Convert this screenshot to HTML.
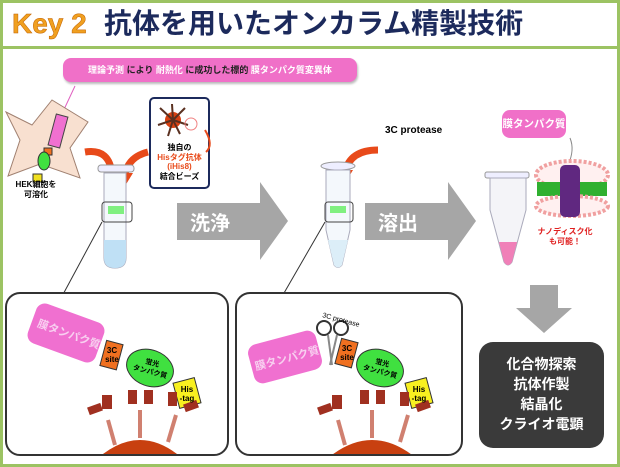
<!DOCTYPE html>
<html><head><meta charset="utf-8"><style>
*{margin:0;padding:0;box-sizing:border-box}
body{width:620px;height:467px;background:#fff;position:relative;overflow:hidden;font-family:"Liberation Sans","Noto Sans CJK JP",sans-serif}
.a{position:absolute}
.b{font-weight:bold}
</style></head><body>
<div class="a" style="left:0;top:0;width:620px;height:49px;border:3px solid #9cc363;background:#fff"></div>
<div class="a" style="left:0;top:47px;width:620px;height:420px;border:3px solid #9cc363;border-top:2px solid #9cc363"></div>
<div class="a b" style="left:12px;top:7px;font-size:28px;color:#f0a020;line-height:34px;-webkit-text-stroke:0.5px #c06000">Key 2</div>
<div class="a b" style="left:104px;top:7px;font-size:28px;color:#1c2a5c;line-height:34px;white-space:nowrap">抗体を用いたオンカラム精製技術</div>

<svg class="a" style="left:0;top:0" width="620" height="467">
 <defs>
  <clipPath id="c1"><rect x="6" y="293" width="222" height="161" rx="14"/></clipPath>
  <clipPath id="c2"><rect x="236" y="293" width="226" height="161" rx="14"/></clipPath>
 </defs>
 <line x1="75" y1="86" x2="60" y2="118" stroke="#e060c0" stroke-width="1"/>
 <!-- HEK cell -->
 <polygon points="6,112 32,125 52,100 88,122 70,148 80,178 40,164 8,176 20,140" fill="#f8e0d0" stroke="#a08070"/>
 <rect x="52" y="115" width="12" height="32" fill="#f070d0" stroke="#444" transform="rotate(15 58 131)"/>
 <rect x="44" y="148" width="8" height="7" fill="#f07020" stroke="#333"/>
 <ellipse cx="44" cy="161" rx="6" ry="9" fill="#40e040" stroke="#333"/>
 <rect x="33" y="174" width="9" height="8" fill="#f0e020" stroke="#333"/>
 <!-- red arrows -->
 <path d="M85,152 Q110,148 112,175" stroke="#e84a1a" stroke-width="7" fill="none"/>
 <polygon points="104,173 120,173 112,186" fill="#e84a1a"/>
 <path d="M148,152 Q128,157 125,175" stroke="#e84a1a" stroke-width="7" fill="none"/>
 <polygon points="117,173 133,173 125,186" fill="#e84a1a"/>
 <path d="M378,150 Q350,150 345,172" stroke="#e84a1a" stroke-width="7" fill="none"/>
 <polygon points="337,170 353,170 345,183" fill="#e84a1a"/>
 <!-- bead box -->
 <rect x="150" y="98" width="59" height="90" rx="4" fill="#fff" stroke="#1c2a5c" stroke-width="2"/>
 <circle cx="173" cy="120" r="8" fill="#d84010"/>
 <g stroke="#5a3020" stroke-width="2">
  <line x1="173" y1="120" x2="160" y2="108"/><line x1="173" y1="120" x2="185" y2="108"/><line x1="173" y1="120" x2="158" y2="125"/><line x1="173" y1="120" x2="188" y2="125"/><line x1="173" y1="120" x2="168" y2="136"/><line x1="173" y1="120" x2="180" y2="134"/><line x1="173" y1="120" x2="172" y2="104"/>
 </g>
 <circle cx="191" cy="124" r="6" fill="none" stroke="#f08080"/>
 <path d="M205,130 Q214,145 206,152" stroke="#e84a1a" stroke-width="2" fill="none"/>
 <!-- tube1 -->
 <rect x="98" y="165" width="36" height="7" rx="3" fill="#eef" stroke="#999"/>
 <path d="M104,173 L104,258 Q104,268 115,268 Q126,268 126,258 L126,173 Z" fill="#f4f8fc" stroke="#aab"/>
 <path d="M104,240 L126,240 L126,258 Q126,268 115,268 Q104,268 104,258 Z" fill="#bfe0f5"/>
 <rect x="108" y="206" width="16" height="8" fill="#80f080"/>
 <rect x="102" y="202" width="30" height="20" rx="3" fill="none" stroke="#444"/>
 <line x1="102" y1="222" x2="60" y2="300" stroke="#333"/>
 <!-- arrow1 -->
 <polygon points="177,203 260,203 260,182 288,221 260,260 260,240 177,240" fill="#a6a6a6"/>
 <!-- tube2 -->
 <ellipse cx="338" cy="166" rx="17" ry="4" fill="#eef" stroke="#999"/>
 <path d="M326,170 L350,170 L350,230 L342,265 Q338,270 334,265 L326,230 Z" fill="#f4f8fc" stroke="#aab"/>
 <path d="M328,240 L348,240 L342,265 Q338,270 334,265 Z" fill="#dceef8"/>
 <rect x="330" y="206" width="16" height="7" fill="#80f080"/>
 <rect x="325" y="202" width="28" height="20" rx="3" fill="none" stroke="#444"/>
 <line x1="325" y1="222" x2="280" y2="300" stroke="#333"/>
 <!-- arrow2 -->
 <polygon points="365,203 448,203 448,182 476,221 448,260 448,240 365,240" fill="#a6a6a6"/>
 <!-- tube3 -->
 <rect x="485" y="172" width="44" height="6" rx="2" fill="#eef" stroke="#999"/>
 <path d="M490,178 L526,178 L526,210 L512,262 Q508,268 504,262 L490,210 Z" fill="#f4f4f8" stroke="#aab"/>
 <path d="M499,242 L517,242 L512,262 Q508,268 504,262 Z" fill="#f080b8"/>
 <!-- nanodisc -->
 <path d="M570,138 Q575,150 568,165" stroke="#888" fill="none"/>
 <ellipse cx="572" cy="175" rx="36" ry="14" fill="#fff0f0" stroke="#f0a0a0" stroke-width="4" stroke-dasharray="3 2"/>
 <rect x="537" y="182" width="70" height="14" fill="#30b030"/>
 <ellipse cx="572" cy="206" rx="36" ry="10" fill="#fff0f0" stroke="#f0a0a0" stroke-width="4" stroke-dasharray="3 2"/>
 <rect x="560" y="165" width="20" height="52" rx="5" fill="#602880"/>
 <!-- down arrow -->
 <polygon points="530,285 558,285 558,308 572,308 544,333 516,308 530,308" fill="#a6a6a6"/>
 <!-- bottom boxes -->
 <rect x="6" y="293" width="222" height="162" rx="14" fill="#fff" stroke="#333" stroke-width="2"/>
 <rect x="236" y="293" width="226" height="162" rx="14" fill="#fff" stroke="#333" stroke-width="2"/>
 <g clip-path="url(#c1)">
  <rect x="30" y="312" width="72" height="42" rx="9" fill="#f070d0" transform="rotate(20 66 333)"/>
  <rect x="103" y="342" width="17" height="26" fill="#f07020" stroke="#333" transform="rotate(15 111 355)"/>
  <ellipse cx="150" cy="368" rx="24" ry="18" fill="#40e040" stroke="#333" transform="rotate(20 150 368)"/>
  <rect x="176" y="380" width="22" height="26" fill="#f8f020" stroke="#333" transform="rotate(-15 187 393)"/>
  <path d="M98,458 Q140,422 182,458 Z" fill="#c84010"/>
  <g stroke="#d08070" stroke-width="4"><line x1="115" y1="445" x2="108" y2="420"/><line x1="140" y1="438" x2="140" y2="410"/><line x1="168" y1="442" x2="176" y2="415"/></g>
  <g fill="#a03020"><rect x="88" y="405" width="14" height="8" transform="rotate(-20 95 409)"/><rect x="102" y="395" width="10" height="14"/><rect x="128" y="390" width="9" height="14"/><rect x="144" y="390" width="9" height="14"/><rect x="168" y="392" width="9" height="14"/><rect x="184" y="402" width="14" height="8" transform="rotate(-20 191 406)"/></g>
 </g>
 <g clip-path="url(#c2)">
  <rect x="250" y="337" width="70" height="40" rx="9" fill="#f070d0" transform="rotate(-15 285 357)"/>
  <rect x="338" y="340" width="17" height="26" fill="#f07020" stroke="#333" transform="rotate(15 346 353)"/>
  <ellipse cx="380" cy="368" rx="24" ry="18" fill="#40e040" stroke="#333" transform="rotate(20 380 368)"/>
  <rect x="408" y="380" width="22" height="26" fill="#f8f020" stroke="#333" transform="rotate(-15 419 393)"/>
  <path d="M328,458 Q372,422 416,458 Z" fill="#c84010"/>
  <g stroke="#d08070" stroke-width="4"><line x1="345" y1="445" x2="338" y2="420"/><line x1="372" y1="438" x2="372" y2="410"/><line x1="400" y1="442" x2="408" y2="415"/></g>
  <g fill="#a03020"><rect x="318" y="405" width="14" height="8" transform="rotate(-20 325 409)"/><rect x="332" y="395" width="10" height="14"/><rect x="360" y="390" width="9" height="14"/><rect x="376" y="390" width="9" height="14"/><rect x="400" y="392" width="9" height="14"/><rect x="416" y="402" width="14" height="8" transform="rotate(-20 423 406)"/></g>
  <circle cx="324" cy="328" r="7" fill="none" stroke="#333" stroke-width="2"/>
  <circle cx="341" cy="328" r="7" fill="none" stroke="#333" stroke-width="2"/>
  <line x1="328" y1="335" x2="332" y2="365" stroke="#888" stroke-width="2"/>
  <line x1="337" y1="335" x2="330" y2="365" stroke="#888" stroke-width="2"/>
  <text x="322" y="317" font-size="7" font-family="Liberation Sans" transform="rotate(15 322 317)">3C protease</text>
 </g>
</svg>

<div class="a b" style="left:63px;top:58px;width:294px;height:24px;background:#f070c8;border-radius:8px;color:#fff;font-size:9px;line-height:24px;text-align:center;box-shadow:1px 2px 2px #bbb;white-space:nowrap">理論予測 <span style="color:#222">により</span> 耐熱化 <span style="color:#222">に成功した標的</span> 膜タンパク質変異体</div>
<div class="a b" style="left:8px;top:180px;font-size:8px;line-height:10px;text-align:center;width:56px">HEK細胞を<br>可溶化</div>
<div class="a b" style="left:150px;top:143px;width:59px;font-size:8px;line-height:9.5px;text-align:center;white-space:nowrap">独自の<br><span style="color:#e84a1a">Hisタグ抗体<br>(iHis8)</span><br>結合ビーズ</div>
<div class="a b" style="left:190px;top:207px;font-size:20px;color:#fff">洗浄</div>
<div class="a b" style="left:378px;top:207px;font-size:20px;color:#fff">溶出</div>
<div class="a b" style="left:385px;top:125px;font-size:10px">3C protease</div>
<div class="a b" style="left:502px;top:110px;width:64px;height:28px;background:#f070c8;border-radius:8px;color:#fff;font-size:10.5px;line-height:28px;text-align:center;white-space:nowrap">膜タンパク質</div>
<div class="a b" style="left:535px;top:227px;width:60px;font-size:8px;line-height:10px;text-align:center;color:#e02020;white-space:nowrap">ナノディスク化<br>も可能！</div>
<div class="a b" style="left:36px;top:326px;font-size:11px;color:#f8d0f0;transform:rotate(20deg);white-space:nowrap">膜タンパク質</div>
<div class="a b" style="left:254px;top:350px;font-size:11px;color:#f8d0f0;transform:rotate(-15deg);white-space:nowrap">膜タンパク質</div>
<div class="a b" style="left:104px;top:346px;font-size:8px;line-height:9px;width:16px;text-align:center">3C<br>site</div>
<div class="a b" style="left:130px;top:359px;font-size:7px;line-height:9px;width:42px;text-align:center;transform:rotate(15deg);white-space:nowrap">蛍光<br>タンパク質</div>
<div class="a b" style="left:178px;top:385px;font-size:8px;line-height:9px;width:18px;text-align:center">His<br>-tag</div>
<div class="a b" style="left:339px;top:344px;font-size:8px;line-height:9px;width:16px;text-align:center">3C<br>site</div>
<div class="a b" style="left:360px;top:359px;font-size:7px;line-height:9px;width:42px;text-align:center;transform:rotate(15deg);white-space:nowrap">蛍光<br>タンパク質</div>
<div class="a b" style="left:410px;top:385px;font-size:8px;line-height:9px;width:18px;text-align:center">His<br>-tag</div>
<div class="a b" style="left:479px;top:342px;width:125px;height:106px;background:#3a3a3a;border-radius:14px;color:#fff;font-size:14px;line-height:20px;text-align:center;padding-top:12px">化合物探索<br>抗体作製<br>結晶化<br>クライオ電顕</div>
</body></html>
